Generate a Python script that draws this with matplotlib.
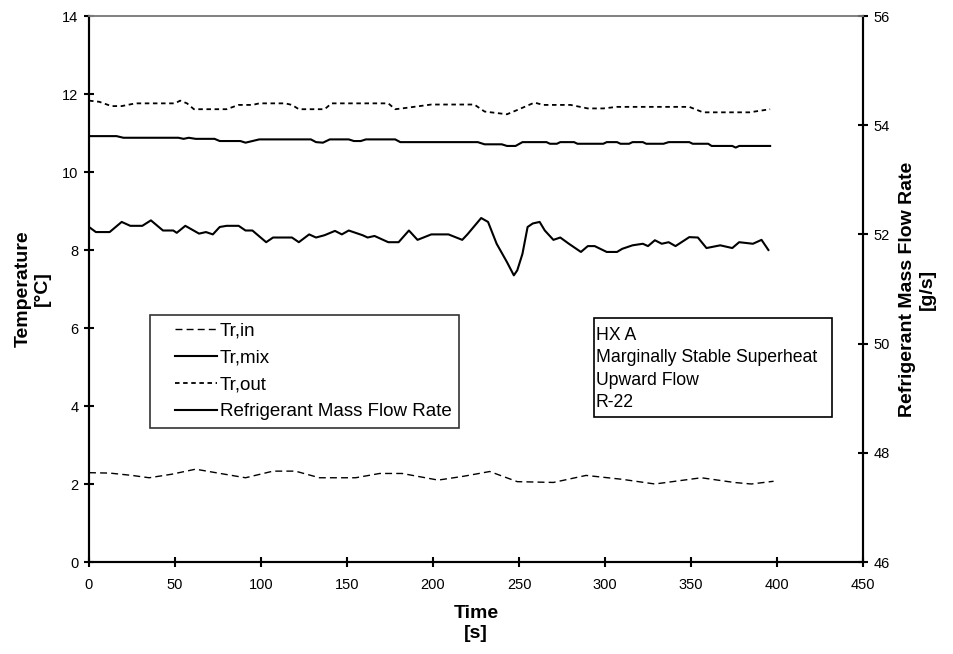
import numpy as np
from matplotlib import pyplot as plt
from matplotlib.patches import Rectangle
from matplotlib.legend_handler import HandlerLine2D

plt.rcParams['font.family'] = ['Liberation Sans', 'DejaVu Sans']

# Tr,in (dashed, bottom)
t_in = [0, 12, 25, 35, 48, 62, 75, 91, 107, 120, 134, 155, 169, 182, 203, 218, 233, 249, 270, 289, 310, 329, 356, 375, 385, 398]
tr_in = [2.29, 2.28, 2.22, 2.16, 2.25, 2.38, 2.28, 2.16, 2.33, 2.33, 2.16, 2.16, 2.27, 2.27, 2.10, 2.20, 2.32, 2.06, 2.04, 2.22, 2.12, 2.00, 2.16, 2.04, 2.00, 2.07]

# Tr,mix (solid, wavy)
t_mix = [0, 4, 12, 19, 24, 31, 36, 43, 49, 51, 56, 64, 68, 72, 76, 80, 87, 91, 95, 103, 107, 118, 122, 128, 132, 137, 143, 147, 151, 159, 162, 166, 174, 180,
         186, 191, 199, 209, 217, 220, 228, 232, 237, 243, 247, 249, 252, 255, 258, 262, 265, 270, 274, 279, 286, 290, 294, 301, 307, 310, 316, 322, 325,
         329, 333, 337, 341, 349, 354, 359, 367, 374, 378, 386, 391, 395]
tr_mix = [8.59, 8.46, 8.46, 8.72, 8.62, 8.62, 8.76, 8.50, 8.50, 8.44, 8.62, 8.42, 8.46, 8.40, 8.59, 8.62, 8.62, 8.50, 8.50, 8.20, 8.32, 8.32, 8.20, 8.40, 8.32, 8.38, 8.49, 8.40, 8.50, 8.38, 8.32, 8.36, 8.20, 8.20,
          8.50, 8.26, 8.40, 8.40, 8.26, 8.40, 8.82, 8.72, 8.16, 7.69, 7.35, 7.48, 7.90, 8.59, 8.68, 8.72, 8.50, 8.26, 8.32, 8.16, 7.95, 8.10, 8.10, 7.95, 7.95, 8.03, 8.12, 8.16, 8.10,
          8.25, 8.16, 8.20, 8.10, 8.33, 8.32, 8.05, 8.12, 8.05, 8.20, 8.16, 8.26, 8.00]

# Tr,out (dotted, top)
t_out = [0, 6, 13, 19, 27, 50, 53, 57, 61, 80, 87, 95, 99, 114, 118, 122, 137, 141, 174, 178, 182, 199, 224, 230, 243, 249, 259, 264, 280, 290, 299, 307, 349, 357, 384, 396]
tr_out = [11.83, 11.80, 11.69, 11.69, 11.76, 11.76, 11.83, 11.76, 11.61, 11.61, 11.72, 11.72, 11.76, 11.76, 11.72, 11.61, 11.61, 11.76, 11.76, 11.61, 11.63, 11.73, 11.73, 11.55, 11.48, 11.59, 11.78, 11.72, 11.72, 11.63, 11.63, 11.67, 11.67, 11.53, 11.53, 11.61]

# Refrigerant mass flow rate (g/s, right axis)
t_mass = [0, 16, 20, 52, 55, 58, 62, 73, 76, 88, 91, 95, 99, 108, 111, 129, 132, 136, 140, 151, 154, 158, 161, 178, 181,
          226, 230, 240, 243, 248, 252, 257, 266, 268, 272, 274, 282, 284, 299, 301, 307, 309, 314, 316, 322, 324, 334, 337,
          349, 351, 360, 362, 374, 376, 378, 396]
mass = [53.80, 53.80, 53.77, 53.77, 53.75, 53.77, 53.75, 53.75, 53.71, 53.71, 53.68, 53.71, 53.74, 53.74, 53.74, 53.74, 53.69, 53.68, 53.74, 53.74, 53.71, 53.71, 53.74, 53.74, 53.69,
        53.69, 53.65, 53.65, 53.62, 53.62, 53.69, 53.69, 53.69, 53.66, 53.66, 53.69, 53.69, 53.66, 53.66, 53.69, 53.69, 53.66, 53.66, 53.69, 53.69, 53.66, 53.66, 53.69,
        53.69, 53.66, 53.66, 53.62, 53.62, 53.59, 53.62, 53.62]


class PaddedLine(HandlerLine2D):
    # legend sample drawn only on the right part of the handle box
    def create_artists(self, legend, orig_handle, xdescent, ydescent, width, height, fontsize, trans):
        pad = 0.29 * width
        return super().create_artists(legend, orig_handle, xdescent - pad, ydescent,
                                      width - pad, height, fontsize, trans)


fig = plt.figure(figsize=(9.54, 6.54), dpi=100)
ax = fig.add_axes([89/954, 1-562/654, 774/954, 546/654])
ax2 = ax.twinx()

l_in, = ax.plot(t_in, tr_in, color='black', lw=1.0, dashes=(5, 3), label='Tr,in')
l_mix, = ax.plot(t_mix, tr_mix, color='black', lw=1.5, label='Tr,mix')
l_out, = ax.plot(t_out, tr_out, color='black', lw=1.3, dashes=(2.5, 2), label='Tr,out')
l_mass, = ax2.plot(t_mass, mass, color='black', lw=1.5, label='Refrigerant Mass Flow Rate')

ax.set_xlim(0, 450)
ax.set_ylim(0, 14)
ax2.set_ylim(46, 56)
ax.set_xticks(np.arange(0, 451, 50))
ax.set_yticks(np.arange(0, 15, 2))
ax2.set_yticks(np.arange(46, 57, 2))

for a in (ax, ax2):
    a.tick_params(direction='inout', length=7, width=1.5, labelsize=10.5, pad=4)
    for s in a.spines.values():
        s.set_linewidth(1.5)
    a.spines['top'].set_color('#808080')
    a.spines['top'].set_linewidth(1.2)
ax.tick_params(axis='x', pad=8)

ax.set_xlabel('Time\n[s]', fontsize=14, fontweight='bold', labelpad=9.5, linespacing=1.2)
ax.set_ylabel('Temperature\n[°C]', fontsize=14, fontweight='bold', labelpad=8, linespacing=1.2)
ax2.set_ylabel('Refrigerant Mass Flow Rate\n[g/s]', fontsize=14, fontweight='bold', labelpad=6.5, linespacing=1.2)

hl = PaddedLine()
leg = ax.legend(handles=[l_in, l_mix, l_out, l_mass], loc='upper left',
                bbox_to_anchor=(0.0788, 0.4524, 0.3992, 0), mode='expand',
                fontsize=13.5, frameon=True, fancybox=False, edgecolor='black', handlelength=3.17,
                handletextpad=0.16, labelspacing=0.52, borderpad=0.4, borderaxespad=0,
                handler_map={l_in: hl, l_mix: hl, l_out: hl, l_mass: hl})
leg.get_frame().set_linewidth(1.2)

ax.add_patch(Rectangle((0.6525, 0.2656), 0.3075, 0.1813, transform=ax.transAxes,
                       facecolor='white', edgecolor='black', lw=1.2, zorder=5))
ax.text(0.655, 0.431, 'HX A\nMarginally Stable Superheat\nUpward Flow\nR-22', transform=ax.transAxes,
        fontsize=12.7, va='top', ha='left', linespacing=1.42, zorder=6)

fig.savefig('out.png', dpi=100)
